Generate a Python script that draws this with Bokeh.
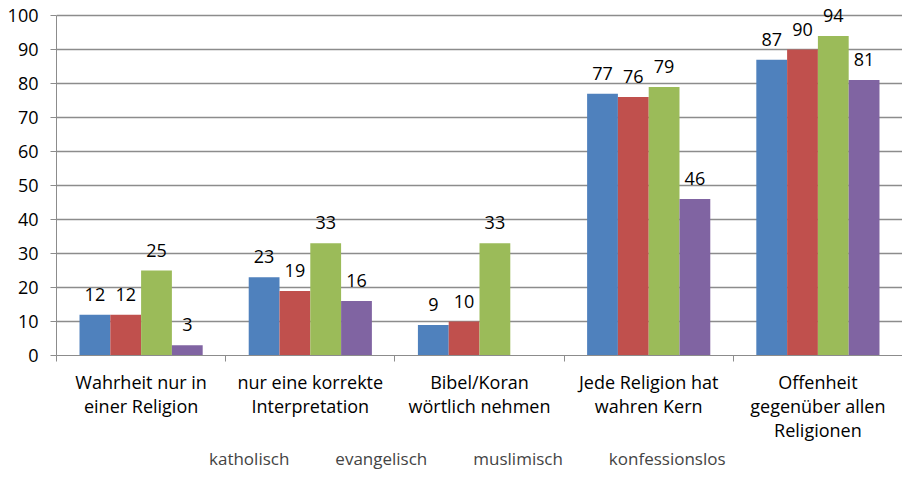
import math
from bokeh.plotting import figure
from bokeh.layouts import column
from bokeh.models import ColumnDataSource, FixedTicker, Range1d, Legend, LegendItem
from bokeh.core.properties import value
from bokeh.embed import file_html
from bokeh.resources import INLINE

categories = ["Wahrheit nur in\neiner Religion",
              "nur eine korrekte\nInterpretation",
              "Bibel/Koran\nwörtlich nehmen",
              "Jede Religion hat\nwahren Kern",
              "Offenheit\ngegenüber allen\nReligionen"]
series_names = ["katholisch", "evangelisch", "muslimisch", "konfessionslos"]
katholisch = [12, 23, 9, 77, 87]
evangelisch = [12, 19, 10, 76, 90]
muslimisch = [25, 33, 33, 79, 94]
konfessionslos = [3, 16, None, 46, 81]
y_ticks = [0, 10, 20, 30, 40, 50, 60, 70, 80, 90, 100]

colors = ["#4F81BD", "#C0504D", "#9BBB59", "#8064A2"]
FONT = "Open Sans"
GRID = "#8c8c8c"

FRAME_H = 355
p = figure(frame_width=846, frame_height=FRAME_H, output_backend="svg", toolbar_location=None,
           x_range=Range1d(0, 5), y_range=Range1d(0, 100 * FRAME_H / 340),
           min_border_left=56, min_border_right=0, min_border_top=0,
           min_border_bottom=0)
p.outline_line_color = None
p.background_fill_color = "white"
p.border_fill_color = "white"

bw = 0.182
offsets = [-1.5 * bw, -0.5 * bw, 0.5 * bw, 1.5 * bw]
all_series = [katholisch, evangelisch, muslimisch, konfessionslos]
for name, vals, col, off in zip(series_names, all_series, colors, offsets):
    xs = [i + 0.5 + off for i in range(len(categories))]
    ys = [float("nan") if v is None else v for v in vals]
    txt = ["" if v is None else str(v) for v in vals]
    src = ColumnDataSource(dict(x=xs, top=ys, label=txt))
    p.vbar(x="x", top="top", bottom=0, width=bw, source=src,
           fill_color=col, line_color=None)
    p.text(x="x", y="top", text="label", source=src, text_align="center",
           text_baseline="bottom", y_offset=-14, text_font=value(FONT),
           text_font_size="18px", text_color="black")

# axes
p.yaxis.ticker = FixedTicker(ticks=y_ticks)
p.yaxis.bounds = (0, 100)
p.yaxis.major_tick_out = 6
p.yaxis.major_tick_in = 0
p.yaxis.minor_tick_line_color = None
p.yaxis.axis_line_color = GRID
p.yaxis.major_tick_line_color = GRID
p.yaxis.major_label_text_font = FONT
p.yaxis.major_label_text_font_size = "18px"
p.yaxis.major_label_text_color = "black"
p.yaxis.major_label_standoff = 12

p.xaxis.ticker = FixedTicker(ticks=[i + 0.5 for i in range(len(categories))],
                             minor_ticks=[0, 1, 2, 3, 4, 5])
p.xaxis.major_label_overrides = {i + 0.5: c for i, c in enumerate(categories)}
p.xaxis.major_tick_line_color = None
p.xaxis.major_tick_out = 0
p.xaxis.major_tick_in = 0
p.xaxis.minor_tick_out = 6
p.xaxis.minor_tick_in = 0
p.xaxis.minor_tick_line_color = GRID
p.xaxis.axis_line_color = GRID
p.xaxis.major_label_text_font = FONT
p.xaxis.major_label_text_font_size = "18px"
p.xaxis.major_label_text_line_height = 1.0
p.xaxis.major_label_text_color = "black"
p.xaxis.major_label_standoff = 8

p.xgrid.grid_line_color = None
p.ygrid.grid_line_color = GRID
p.ygrid.grid_line_width = 1.5

# legend in its own small figure below the chart
lg = figure(frame_width=902, frame_height=28, output_backend="svg", toolbar_location=None,
            x_range=Range1d(0, 1), y_range=Range1d(0, 1),
            x_axis_type=None, y_axis_type=None,
            min_border_left=0, min_border_right=0, min_border_top=0, min_border_bottom=0)
lg.outline_line_color = None
lg.xgrid.grid_line_color = None
lg.ygrid.grid_line_color = None
items = []
for name, col in zip(series_names, colors):
    r = lg.vbar(x=[], top=[], width=0.1, fill_color=col, line_color=None)
    items.append(LegendItem(label=name, renderers=[r]))
legend = Legend(items=items, orientation="horizontal", location=(193, 2),
                border_line_color=None, background_fill_alpha=0,
                label_text_font=FONT, label_text_font_size="17px",
                glyph_width=12, glyph_height=12, label_standoff=4,
                spacing=30, padding=0, margin=0)
lg.add_layout(legend, "center")

layout = column(p, lg, spacing=0)
open("out.html", "w").write(file_html(layout, INLINE))
